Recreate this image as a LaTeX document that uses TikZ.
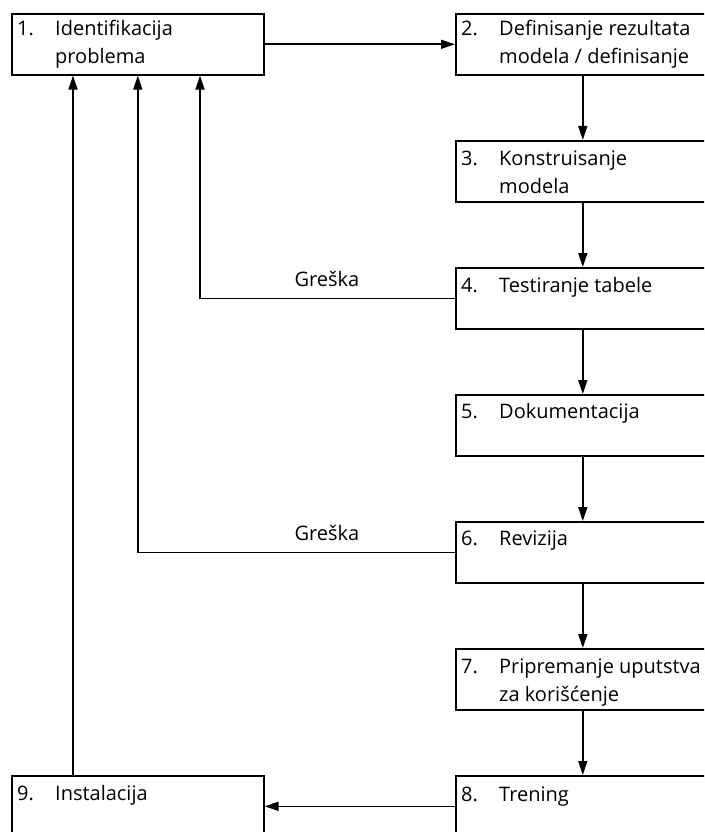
\documentclass[tikz,border=0pt]{standalone}
\usepackage{fontspec}
\setmainfont{Open Sans}
\usetikzlibrary{arrows.meta,calc}
\begin{document}
\begin{tikzpicture}[x=1pt,y=-1pt,
  stepbox/.style={draw,line width=1.6pt,rectangle,minimum width=254pt,minimum height=61pt,inner sep=0pt,anchor=north west},
  leftbox/.style={stepbox,minimum width=252pt},
  arr/.style={line width=1.6pt,-{Triangle[length=14pt,width=9pt]}},
  txt/.style={inner sep=0pt,anchor=base west,font=\fontsize{20pt}{24pt}\selectfont},
  lbl/.style={inner sep=0pt,anchor=base,font=\fontsize{20pt}{24pt}\selectfont}]
\useasboundingbox (0,0) rectangle (704,832);
\clip (0,0) rectangle (704,832);
% boxes
\node[leftbox] (b1) at (11,13) {};
\node[stepbox] (b2) at (455,13) {};
\node[stepbox] (b3) at (455,140) {};
\node[stepbox] (b4) at (455,267) {};
\node[stepbox] (b5) at (455,394) {};
\node[stepbox] (b6) at (455,521) {};
\node[stepbox] (b7) at (455,648) {};
\node[stepbox] (b8) at (455,775) {};
\node[leftbox] (b9) at (11,775) {};
% texts
\node[txt] (n1) at ([xshift=6pt,yshift=-23pt]b1.north west) {1.};
\node[txt] (t1a) at ([xshift=44pt,yshift=-23pt]b1.north west) {Identifikacija};
\node[txt] (t1b) at ([xshift=44pt,yshift=-50.5pt]b1.north west) {problema};
\node[txt] (n2) at ([xshift=6pt,yshift=-23pt]b2.north west) {2.};
\node[txt] (t2a) at ([xshift=44pt,yshift=-23pt]b2.north west) {Definisanje rezultata};
\node[txt] (t2b) at ([xshift=44pt,yshift=-50.5pt]b2.north west) {modela / definisanje};
\node[txt] (n3) at ([xshift=6pt,yshift=-25.5pt]b3.north west) {3.};
\node[txt] (t3a) at ([xshift=44pt,yshift=-25.5pt]b3.north west) {Konstruisanje};
\node[txt] (t3b) at ([xshift=44pt,yshift=-53pt]b3.north west) {modela};
\node[txt] (n4) at ([xshift=6pt,yshift=-25pt]b4.north west) {4.};
\node[txt] (t4a) at ([xshift=44pt,yshift=-25pt]b4.north west) {Testiranje tabele};
\node[txt] (n5) at ([xshift=6pt,yshift=-24pt]b5.north west) {5.};
\node[txt] (t5a) at ([xshift=44pt,yshift=-24pt]b5.north west) {Dokumentacija};
\node[txt] (n6) at ([xshift=6pt,yshift=-24pt]b6.north west) {6.};
\node[txt] (t6a) at ([xshift=44pt,yshift=-24pt]b6.north west) {Revizija};
\node[txt] (n7) at ([xshift=6pt,yshift=-25.5pt]b7.north west) {7.};
\node[txt] (t7a) at ([xshift=44pt,yshift=-25.5pt]b7.north west) {Pripremanje uputstva};
\node[txt] (t7b) at ([xshift=44pt,yshift=-53pt]b7.north west) {za korišćenje};
\node[txt] (n8) at ([xshift=6pt,yshift=-26pt]b8.north west) {8.};
\node[txt] (t8a) at ([xshift=44pt,yshift=-26pt]b8.north west) {Trening};
\node[txt] (n9) at ([xshift=6pt,yshift=-25pt]b9.north west) {9.};
\node[txt] (t9a) at ([xshift=44pt,yshift=-25pt]b9.north west) {Instalacija};
% arrows
\draw[arr] (b1.east) -- (b2.west);
\draw[arr] (b2.south) -- (b3.north);
\draw[arr] (b3.south) -- (b4.north);
\draw[arr] (b4.south) -- (b5.north);
\draw[arr] (b5.south) -- (b6.north);
\draw[arr] (b6.south) -- (b7.north);
\draw[arr] (b7.south) -- (b8.north);
\draw[arr] (b8.west) -- (b9.east);
\draw[arr] ([xshift=62pt]b9.north west) -- ([xshift=62pt]b1.south west);
\draw[arr] (b6.west) -| (b1.south);
\draw[arr] (b4.west) -| ([xshift=189pt]b1.south west);
% labels
\node[lbl] (g1) at ($(b4.west)+(-128pt,12pt)$) {Greška};
\node[lbl] (g2) at ($(b6.west)+(-128pt,12pt)$) {Greška};
\end{tikzpicture}
\end{document}
